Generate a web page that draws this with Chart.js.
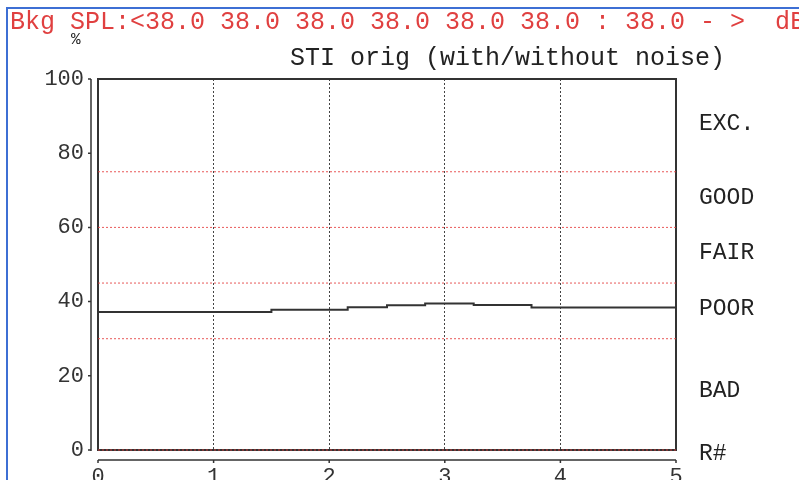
<!DOCTYPE html>
<html>
<head>
<meta charset="utf-8">
<title>STI orig</title>
<script src="https://cdn.jsdelivr.net/npm/chart.js@4.4.0/dist/chart.umd.min.js"></script>
<style>
  html, body { margin: 0; padding: 0; background: #fff; overflow: hidden; }
  #wrap { position: relative; width: 799px; height: 480px; overflow: hidden; }
  #canvas1 { position: absolute; left: 0; top: 0; }
  .edgeTop { position: absolute; left: 6px; top: 7px; right: 0; height: 2px; background: #3d6fd4; }
  .edgeLeft { position: absolute; left: 6px; top: 7px; bottom: 0; width: 2px; background: #3d6fd4; }
</style>
</head>
<body>
<div id="wrap">
  <canvas id="canvas1" width="799" height="500"></canvas>
  <div class="edgeTop"></div>
  <div class="edgeLeft"></div>
</div>
<script>
// texts
var headerText = "Bkg SPL:<38.0 38.0 38.0 38.0 38.0 38.0 : 38.0 - >  dB";
var titleText = "STI orig (with/without noise)";
var unitText = "%";

// STI curve (receiver # -> %), level changes at these x
var stepX = [0, 1.5, 2.16, 2.5, 2.83, 3.25, 3.75, 5];
var stiValues = [37.2, 37.8, 38.5, 39.0, 39.5, 39.1, 38.4, 38.4];

// red rating limits
var limitValues = [75, 60, 45, 30, 0];

// rating names on the right side
var bandNames = ["R#", "BAD", "POOR", "FAIR", "GOOD", "EXC."];
var bandAt = [-1, 16, 38, 53, 68, 88];

var xMin = 0, xMax = 5;
var yMin = 0, yMax = 100;

var monoFont = "Liberation Mono";

var stiPoints = stepX.map(function(v, i) { return {x: v, y: stiValues[i]}; });

var limitSets = limitValues.map(function(v) {
  return {
    data: [{x: xMin, y: v}, {x: xMax, y: v}],
    borderColor: 'rgba(228,60,60,0.85)',
    borderWidth: 1,
    borderDash: [2, 2],
    pointRadius: 0,
    clip: false
  };
});

var framePlugin = {
  id: 'frame',
  beforeDatasetsDraw: function(chart) {
    var ctx = chart.ctx, a = chart.chartArea;
    var x = chart.scales.x, y = chart.scales.y;
    ctx.save();
    ctx.strokeStyle = '#333';
    ctx.lineWidth = 2;
    ctx.strokeRect(a.left, a.top, a.right - a.left, a.bottom - a.top);

    // detached axes
    ctx.lineWidth = 1.5;
    ctx.beginPath();
    var ax = a.left - 7;
    ctx.moveTo(ax, y.getPixelForValue(yMax));
    ctx.lineTo(ax, y.getPixelForValue(yMin) + 1);
    y.ticks.forEach(function(t) {
      var py = y.getPixelForValue(t.value);
      ctx.moveTo(ax, py);
      ctx.lineTo(ax - 3, py);
    });
    var ay = a.bottom + 10;
    ctx.moveTo(x.getPixelForValue(xMin), ay);
    ctx.lineTo(x.getPixelForValue(xMax), ay);
    x.ticks.forEach(function(t) {
      var px = x.getPixelForValue(t.value);
      ctx.moveTo(px, ay);
      ctx.lineTo(px, ay + 3);
    });
    ctx.stroke();

    ctx.textBaseline = 'middle';
    ctx.font = '25px "' + monoFont + '"';
    ctx.fillStyle = '#e04040';
    ctx.fillText(headerText, 10, 22);
    ctx.fillStyle = '#222';
    ctx.fillText(titleText, 290, 58);
    ctx.font = '16px "' + monoFont + '"';
    ctx.fillText(unitText, 71, 40);
    ctx.restore();
  }
};

window.onload = function() {
  var ctx = document.getElementById("canvas1").getContext("2d");
  window.myLine = new Chart(ctx, {
    type: 'line',
    data: {
      datasets: [{
        data: stiPoints,
        borderColor: '#333',
        borderWidth: 2,
        stepped: 'before',
        pointRadius: 0,
        clip: false
      }].concat(limitSets)
    },
    options: {
      responsive: false,
      animation: false,
      events: [],
      layout: { padding: { top: 79, left: 0, right: 0, bottom: 0 } },
      plugins: {
        legend: { display: false },
        tooltip: { enabled: false }
      },
      scales: {
        x: {
          type: 'linear',
          min: xMin,
          max: xMax,
          ticks: { stepSize: 1, padding: 14, color: '#333', font: { family: monoFont, size: 22 } },
          grid: {
            drawTicks: false,
            lineWidth: 1,
            color: function(c) {
              return (c.tick && (c.tick.value === xMin || c.tick.value === xMax)) ? 'rgba(0,0,0,0)' : '#444';
            }
          },
          border: { display: false, dash: [2, 2] },
          afterFit: function(s) { s.height = 50; }
        },
        y: {
          min: yMin,
          max: yMax,
          ticks: { stepSize: 20, padding: 14, color: '#333', font: { family: monoFont, size: 22 } },
          grid: { display: false, drawTicks: false },
          border: { display: false },
          afterFit: function(s) { s.width = 98; }
        },
        y2: {
          position: 'right',
          min: yMin,
          max: yMax,
          afterBuildTicks: function(s) {
            s.ticks = bandAt.map(function(v) { return {value: v}; });
          },
          ticks: {
            padding: 23,
            color: '#222',
            font: { family: monoFont, size: 23 },
            callback: function(v, i) { return bandNames[i]; }
          },
          grid: { display: false, drawTicks: false },
          border: { display: false },
          afterFit: function(s) { s.width = 123; }
        }
      }
    },
    plugins: [framePlugin]
  });
};
</script>
</body>
</html>
